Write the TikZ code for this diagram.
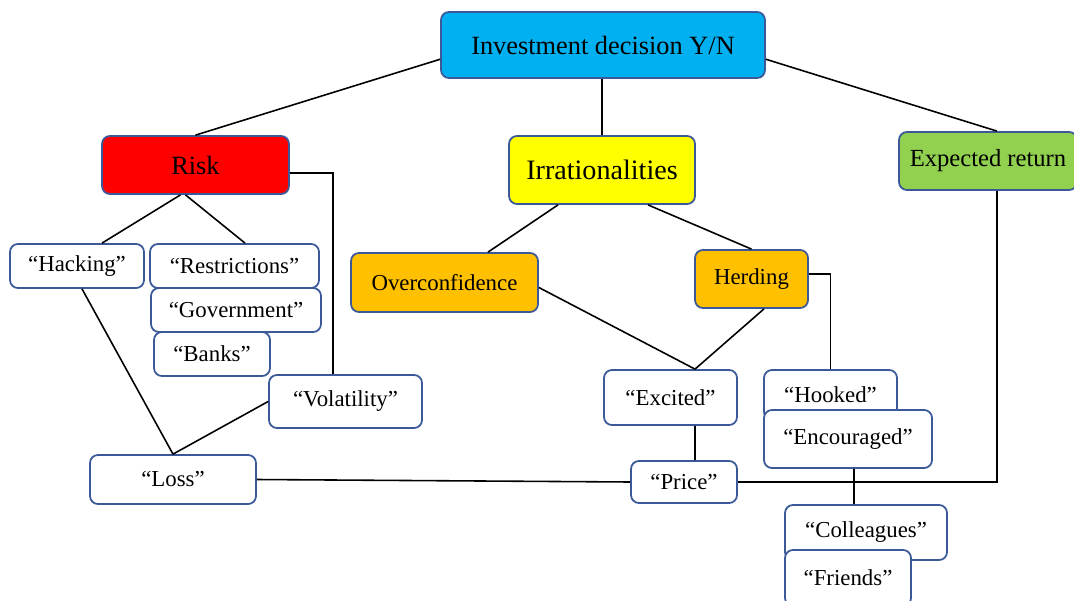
\documentclass[tikz,border=0pt]{standalone}
\usepackage{fontspec}
\setmainfont{Liberation Serif}
\usepackage{tikz}
\usetikzlibrary{arrows,positioning}

\definecolor{boxline}{RGB}{59,89,152}
\definecolor{topblue}{RGB}{0,176,240}
\definecolor{riskred}{RGB}{255,0,0}
\definecolor{irryellow}{RGB}{255,255,0}
\definecolor{biasorange}{RGB}{255,192,0}
\definecolor{retgreen}{RGB}{146,208,80}

\begin{document}
\begin{tikzpicture}[x=0.02cm,y=-0.02cm,line width=0.9pt,
                    hv/.style={to path={-| (\tikztotarget)}}]
	\tikzstyle{box}=[draw=boxline,line width=1pt,rounded corners=4.5pt,fill=white,text=black,
	                 inner sep=0pt,font=\fontsize{13}{15}\selectfont]
	\useasboundingbox (0,0) rectangle (1074,601);

	\node[box,fill=topblue,minimum width=6.48cm,minimum height=1.32cm,font=\fontsize{15}{18}\selectfont]	(inv)	at (603,45)	{Investment decision Y/N};
	\node[box,fill=riskred,minimum width=3.74cm,minimum height=1.16cm,font=\fontsize{15}{18}\selectfont]	(risk)	at (195.5,165)	{Risk};
	\node[box,fill=irryellow,minimum width=3.72cm,minimum height=1.36cm,font=\fontsize{16}{19}\selectfont]	(irr)	at (602,170)	{Irrationalities};
	\node[box,fill=retgreen,minimum width=3.56cm,minimum height=1.16cm,font=\fontsize{14}{17}\selectfont]	(exp)	at (988,161)	{Expected return};

	\node[box,minimum width=2.68cm,minimum height=0.88cm]	(hack)	at (77,266)	{``Hacking''};
	\node[box,minimum width=3.38cm,minimum height=0.88cm]	(restr)	at (234.5,266)	{``Restrictions''};
	\node[box,minimum width=3.40cm,minimum height=0.88cm]	(gov)	at (236,310)	{``Government''};
	\node[box,minimum width=2.32cm,minimum height=0.88cm]	(banks)	at (212,354)	{``Banks''};
	\node[box,minimum width=3.06cm,minimum height=1.06cm]	(volat)	at (345.5,401.5)	{``Volatility''};
	\node[box,minimum width=3.32cm,minimum height=0.98cm]	(loss)	at (173,479.5)	{``Loss''};

	\node[box,fill=biasorange,minimum width=3.74cm,minimum height=1.18cm]	(overc)	at (444.5,282.5)	{Overconfidence};
	\node[box,fill=biasorange,minimum width=2.26cm,minimum height=1.16cm]	(herd)	at (751.5,279)	{Herding};
	\node[box,minimum width=2.66cm,minimum height=1.10cm]	(excit)	at (670.5,397.5)	{``Excited''};
	\node[box,minimum width=2.12cm,minimum height=0.84cm]	(price)	at (684,482)	{``Price''};

	\node[box,minimum width=2.66cm,minimum height=1.0cm]	(hooked)	at (830.5,395)	{``Hooked''};
	\node[box,minimum width=3.36cm,minimum height=1.16cm]	(enc)	at (848,439)	{``Encouraged''};
	\node[box,minimum width=3.24cm,minimum height=1.10cm]	(coll)	at (866,532.5)	{``Colleagues''};
	\node[box,minimum width=2.52cm,minimum height=1.12cm]	(friends)	at (848,578)	{``Friends''};

	\path (inv.185.6)	edge	(risk.north)
		(irr.north |- inv.south)	edge	(irr.north)
		(inv.-5.6)	edge	([xshift=0.18cm]exp.north)
		([xshift=-0.3cm]risk.south)	edge	([xshift=0.5cm]hack.north)
		([xshift=-0.2cm]risk.south)	edge	([xshift=0.21cm]restr.north)
		([yshift=-0.16cm]risk.east)	edge	[hv]	([xshift=-0.25cm]volat.north)
		([xshift=0.1cm]hack.south)	edge	(loss.north)
		(volat.west)	edge	(loss.north)
		(loss.east)	edge	(price.west)
		([xshift=-0.88cm]irr.south)	edge	([xshift=0.87cm]overc.north)
		([xshift=0.92cm]irr.south)	edge	(herd.north)
		([yshift=-0.1cm]overc.east)	edge	([xshift=0.49cm]excit.north)
		([xshift=0.25cm]herd.south)	edge	([xshift=0.49cm]excit.north)
		([yshift=0.1cm]herd.east)	edge	[hv]	(hooked.north)
		([xshift=0.49cm]excit.south)	edge	([xshift=0.22cm]price.north)
		(price.east)	edge	[hv]	([xshift=0.18cm]exp.south)
		([xshift=0.12cm]enc.south)	edge	([xshift=-0.24cm]coll.north);
\end{tikzpicture}
\end{document}
